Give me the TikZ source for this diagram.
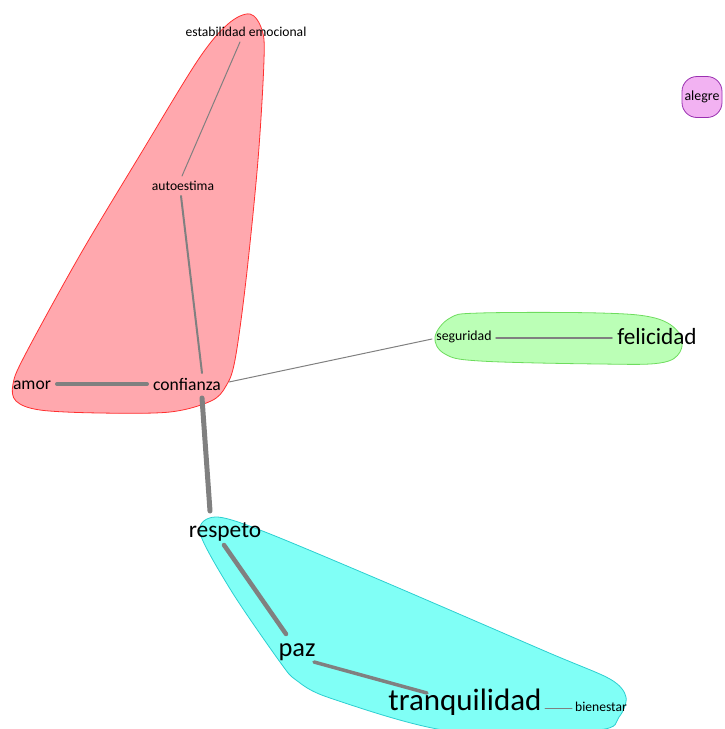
\documentclass[tikz,border=0pt]{standalone}
\usepackage{fontspec}
\setmainfont{Carlito}
\begin{document}
\begin{tikzpicture}[x=1pt,y=-1pt,
  lbl/.style={anchor=base,inner sep=0pt,text=black},
  fs/.style={font=\fontsize{#1}{#1}\selectfont},
  edge/.style={draw=edgegray,line width=#1,line cap=round},
  hull/.style={line width=0.8pt}]
\definecolor{edgegray}{HTML}{808080}
\definecolor{redfill}{HTML}{FFA8AE}
\definecolor{redline}{HTML}{FF3030}
\definecolor{greenfill}{HTML}{BBFFB6}
\definecolor{greenline}{HTML}{6EDC5E}
\definecolor{cyanfill}{HTML}{80FFF6}
\definecolor{cyanline}{HTML}{2CCFD0}
\definecolor{purplefill}{HTML}{F2B2F2}
\definecolor{purpleline}{HTML}{9A30B0}
\useasboundingbox (0,0) rectangle (725,729);
% hulls
\draw[hull,fill=redfill,draw=redline] plot[smooth cycle,tension=0.55] coordinates
 {(250,14) (262,30) (264,60) (258,160) (246,280) (235,360) (226,386) (211,401) (170,412) (100,413) (40,410) (16,401) (13,384) (25,355) (80,255) (140,155) (198,60) (228,24)};
\draw[hull,fill=greenfill,draw=greenline] plot[smooth cycle,tension=0.6] coordinates
 {(435,337) (450,318) (480,313) (600,313) (655,318) (679,333) (680,352) (660,363) (600,364) (480,361) (445,354)};
\draw[hull,fill=cyanfill,draw=cyanline] plot[smooth cycle,tension=0.5] coordinates
 {(215,517) (260,530) (380,580) (547,652) (610,679) (626,697) (619,717) (597,730) (450,731) (330,698) (296,680) (280,662) (232,592) (200,533)};
% nodes
\node[lbl,fs=13.6] (estab) at (246,36) {estabilidad emocional};
\node[lbl,fs=13.6] (auto) at (183,190) {autoestima};
\node[lbl,fs=17.6] (amor) at (32,389) {amor};
\node[lbl,fs=17.6] (conf) at (187,390) {confianza};
\node[lbl,fs=13.8] (seg) at (464,340) {seguridad};
\node[lbl,fs=23.2] (fel) at (657,344) {felicidad};
\node[lbl,fs=23.4] (resp) at (225,537) {respeto};
\node[lbl,fs=26.4] (paz) at (297,656) {paz};
\node[lbl,fs=31] (tranq) at (465,710) {tranquilidad};
\node[lbl,fs=13.6] (bien) at (601,711) {bienestar};
\node[fs=13.9,fill=purplefill,draw=purpleline,line width=0.8pt,rounded corners=15pt,minimum width=40pt,minimum height=41pt,inner sep=0pt] (alegre) at (702,97) {alegre};
% edges
\draw[edge=1pt] ([shift={(-6,6)}]estab.base) -- ([shift={(-1,-14)}]auto.base);
\draw[edge=2pt] ([shift={(-2,6)}]auto.base) -- ([shift={(15,-17)}]conf.base);
\draw[edge=4pt] ([shift={(25,-5)}]amor.base) -- ([shift={(-40,-6)}]conf.base);
\draw[edge=1pt] ([shift={(42,-8)}]conf.base) -- ([shift={(-32,-1)}]seg.base);
\draw[edge=1.5pt] ([shift={(32,-2)}]seg.base) -- ([shift={(-45,-6)}]fel.base);
\draw[edge=5pt] ([shift={(15,8)}]conf.base) -- ([shift={(-15,-26)}]resp.base);
\draw[edge=4.5pt] ([shift={(-1,8)}]resp.base) -- ([shift={(-11,-22)}]paz.base);
\draw[edge=3.5pt] ([shift={(17,6)}]paz.base) -- ([shift={(-38,-17)}]tranq.base);
\draw[edge=1pt] ([shift={(80,-2)}]tranq.base) -- ([shift={(-29,-3)}]bien.base);
\end{tikzpicture}
\end{document}
